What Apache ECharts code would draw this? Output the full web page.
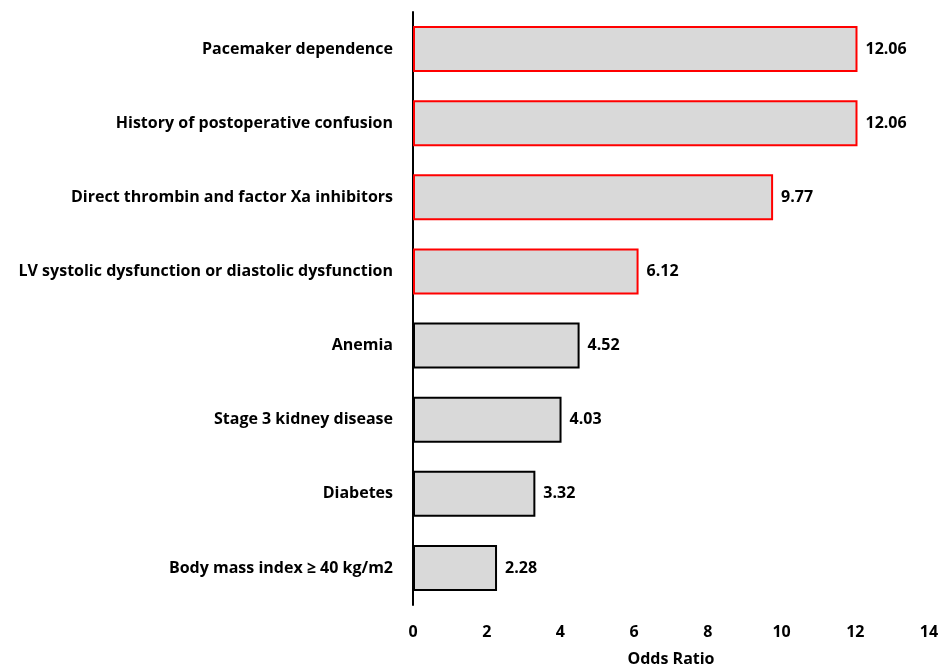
<!DOCTYPE html>
<html>
<head>
<meta charset="utf-8">
<script src="https://cdn.jsdelivr.net/npm/echarts@6/dist/echarts.min.js"></script>
<style>html,body{margin:0;padding:0;background:#fff}#c{width:939px;height:665px}</style>
</head>
<body>
<div id="c"></div>
<script>
const categories = [
  "Pacemaker dependence",
  "History of postoperative confusion",
  "Direct thrombin and factor Xa inhibitors",
  "LV systolic dysfunction or diastolic dysfunction",
  "Anemia",
  "Stage 3 kidney disease",
  "Diabetes",
  "Body mass index \u2265 40 kg/m2"
];
const oddsRatios = [12.06, 12.06, 9.77, 6.12, 4.52, 4.03, 3.32, 2.28];
const highlighted = [true, true, true, true, false, false, false, false];
const xTicks = [0, 2, 4, 6, 8, 10, 12, 14];

const FONT = "Open Sans";
const chart = echarts.init(document.getElementById('c'));
chart.setOption({
  animation: false,
  grid: {left: 413, right: 10, top: 12, bottom: 60, containLabel: false, outerBoundsMode: 'none'},
  xAxis: {
    type: 'value', min: xTicks[0], max: xTicks[xTicks.length-1], interval: 2,
    axisLine: {show: false}, axisTick: {show: false}, splitLine: {show: false},
    axisLabel: {color: '#000', fontFamily: FONT, fontWeight: 'bold', fontSize: 16, margin: 19},
    name: 'Odds Ratio', nameLocation: 'middle', nameGap: 46,
    nameTextStyle: {color: '#000', fontFamily: FONT, fontWeight: 'bold', fontSize: 16}
  },
  yAxis: {
    type: 'category', data: categories, inverse: true,
    axisLine: {show: true, lineStyle: {color: '#000', width: 2}},
    axisTick: {show: false},
    axisLabel: {color: '#000', fontFamily: FONT, fontWeight: 'bold', fontSize: 16, margin: 20}
  },
  series: [{
    type: 'bar', barWidth: 46,
    data: oddsRatios.map((v, i) => ({
      value: v,
      itemStyle: {color: '#d9d9d9', borderColor: highlighted[i] ? '#ff0000' : '#000', borderWidth: 2}
    })),
    label: {show: true, position: 'right', distance: 8, color: '#000', fontFamily: FONT, fontWeight: 'bold', fontSize: 16,
      formatter: p => p.value.toFixed(2)}
  }]
});
</script>
</body>
</html>
